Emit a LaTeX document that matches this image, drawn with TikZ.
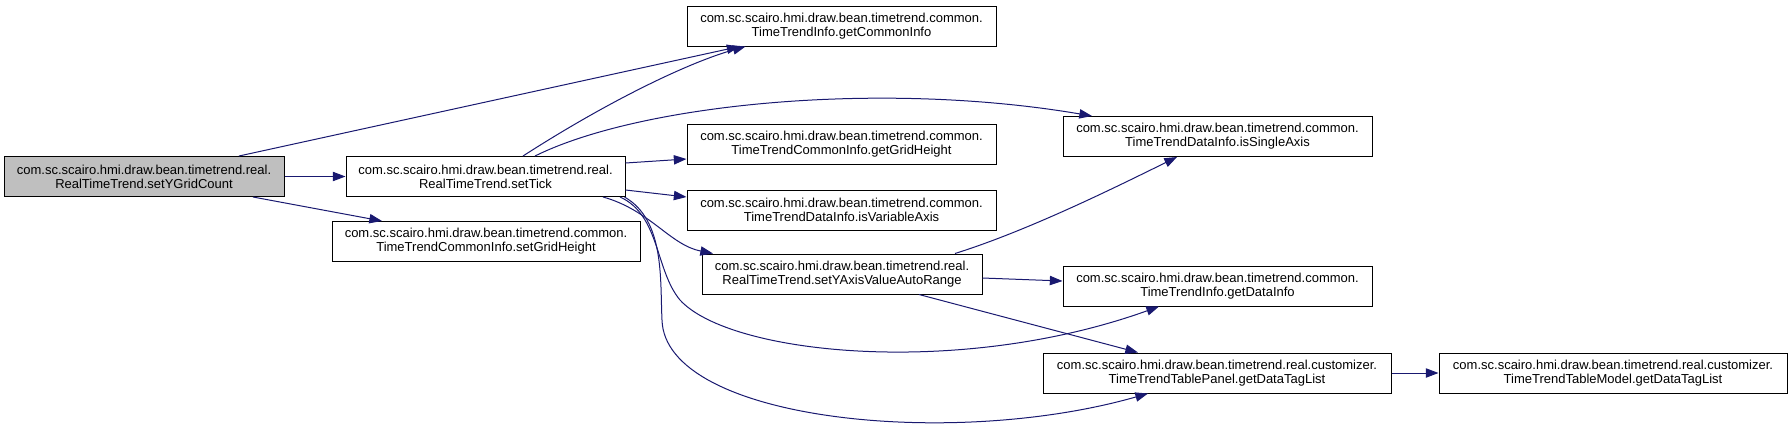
\documentclass[tikz,border=0pt]{standalone}
\usepackage{fontspec}
\setmainfont{Liberation Sans}
\usetikzlibrary{positioning,calc,arrows.meta}
\definecolor{callblue}{HTML}{191970}

\begin{document}
\begin{tikzpicture}[x=0.75pt,y=-0.75pt,
member/.style={rectangle, draw=black, fill=white, line width=0.75pt, inner sep=0pt, minimum height=30pt, align=center, font=\fontsize{9.75pt}{10.5pt}\selectfont},
selected/.style={member, fill=black!25},
call/.style={draw=callblue, line width=0.75pt, -{Triangle[length=9.5pt,width=7pt]}}
]
\useasboundingbox (0,0) rectangle (1791,433);

\node[selected](set_ygrid) at (144,176.5) [minimum width=210pt]{com.sc.scairo.hmi.draw.bean.timetrend.real.\\RealTimeTrend.setYGridCount};
\node[member](set_tick) at (485.5,176.5) [minimum width=209.25pt]{com.sc.scairo.hmi.draw.bean.timetrend.real.\\RealTimeTrend.setTick};
\node[member](set_grid) at (486,241.5) [minimum width=231pt]{com.sc.scairo.hmi.draw.bean.timetrend.common.\\TimeTrendCommonInfo.setGridHeight};

\node[member](get_common) at (841.5,26) [minimum width=231.75pt]{com.sc.scairo.hmi.draw.bean.timetrend.common.\\TimeTrendInfo.getCommonInfo};
\node[member](get_grid)[below=57.75pt of get_common, minimum width=231.75pt]{com.sc.scairo.hmi.draw.bean.timetrend.common.\\TimeTrendCommonInfo.getGridHeight};
\node[member](is_variable)[below=18.75pt of get_grid, minimum width=231.75pt]{com.sc.scairo.hmi.draw.bean.timetrend.common.\\TimeTrendDataInfo.isVariableAxis};
\node[member](set_yaxis) at (842,274) [minimum width=210pt]{com.sc.scairo.hmi.draw.bean.timetrend.real.\\RealTimeTrend.setYAxisValueAutoRange};

\node[member](is_single) at (1217.5,136.5) [minimum width=231.75pt]{com.sc.scairo.hmi.draw.bean.timetrend.common.\\TimeTrendDataInfo.isSingleAxis};
\node[member](get_data) at (1217.5,286) [minimum width=231.75pt]{com.sc.scairo.hmi.draw.bean.timetrend.common.\\TimeTrendInfo.getDataInfo};
\node[member](table_panel) at (1217,373) [minimum width=261pt]{com.sc.scairo.hmi.draw.bean.timetrend.real.customizer.\\TimeTrendTablePanel.getDataTagList};
\node[member](table_model)[right=35.25pt of table_panel, minimum width=261pt]{com.sc.scairo.hmi.draw.bean.timetrend.real.customizer.\\TimeTrendTableModel.getDataTagList};

% calls of setYGridCount
\draw[call] (set_ygrid) -- (set_tick);
\draw[call] ($(set_ygrid.north)+(95,0)$) -- ($(get_common.south)+(-102,0)$);
\draw[call] ($(set_ygrid.south)+(109,0)$) -- ($(set_grid.north)+(-104,0)$);

% calls of setTick
\draw[call] ($(set_tick.north)+(37.5,0)$) .. controls (610,100) and (690,62) .. ($(get_common.south)+(-96,0)$);
\draw[call] ($(set_tick.north)+(49.5,0)$) .. controls (640,104) and (880,80) .. ($(is_single.north)+(-125.5,0)$);
\draw[call] ($(set_tick.east)+(0,-13.5)$) -- ($(get_grid.west)+(0,15)$);
\draw[call] ($(set_tick.east)+(0,13.5)$) -- ($(is_variable.west)+(0,-13)$);
\draw[call] ($(set_tick.south)+(117.5,0)$) .. controls (650,210) and (670,245) .. ($(set_yaxis.north)+(-129,0)$);
\draw[call] ($(set_tick.south)+(134.5,0)$) .. controls (660,215) and (655,270) .. (680,300) .. controls (730,355) and (960,378) .. ($(get_data.south)+(-58.5,0)$);
\draw[call] ($(set_tick.south)+(139,0)$) .. controls (665,220) and (660,280) .. (662,320) .. controls (665,420) and (950,450) .. ($(table_panel.south)+(-69,0)$);

% calls of setYAxisValueAutoRange
\draw[call] ($(set_yaxis.north)+(113,0)$) .. controls (1030,230) and (1120,185) .. ($(is_single.south)+(-40.5,0)$);
\draw[call] ($(set_yaxis.east)+(0,4)$) -- ($(get_data.west)+(0,-5)$);
\draw[call] ($(set_yaxis.south)+(77,0)$) -- ($(table_panel.north)+(-79,0)$);

\draw[call] (table_panel) -- (table_model);
\end{tikzpicture}
\end{document}
